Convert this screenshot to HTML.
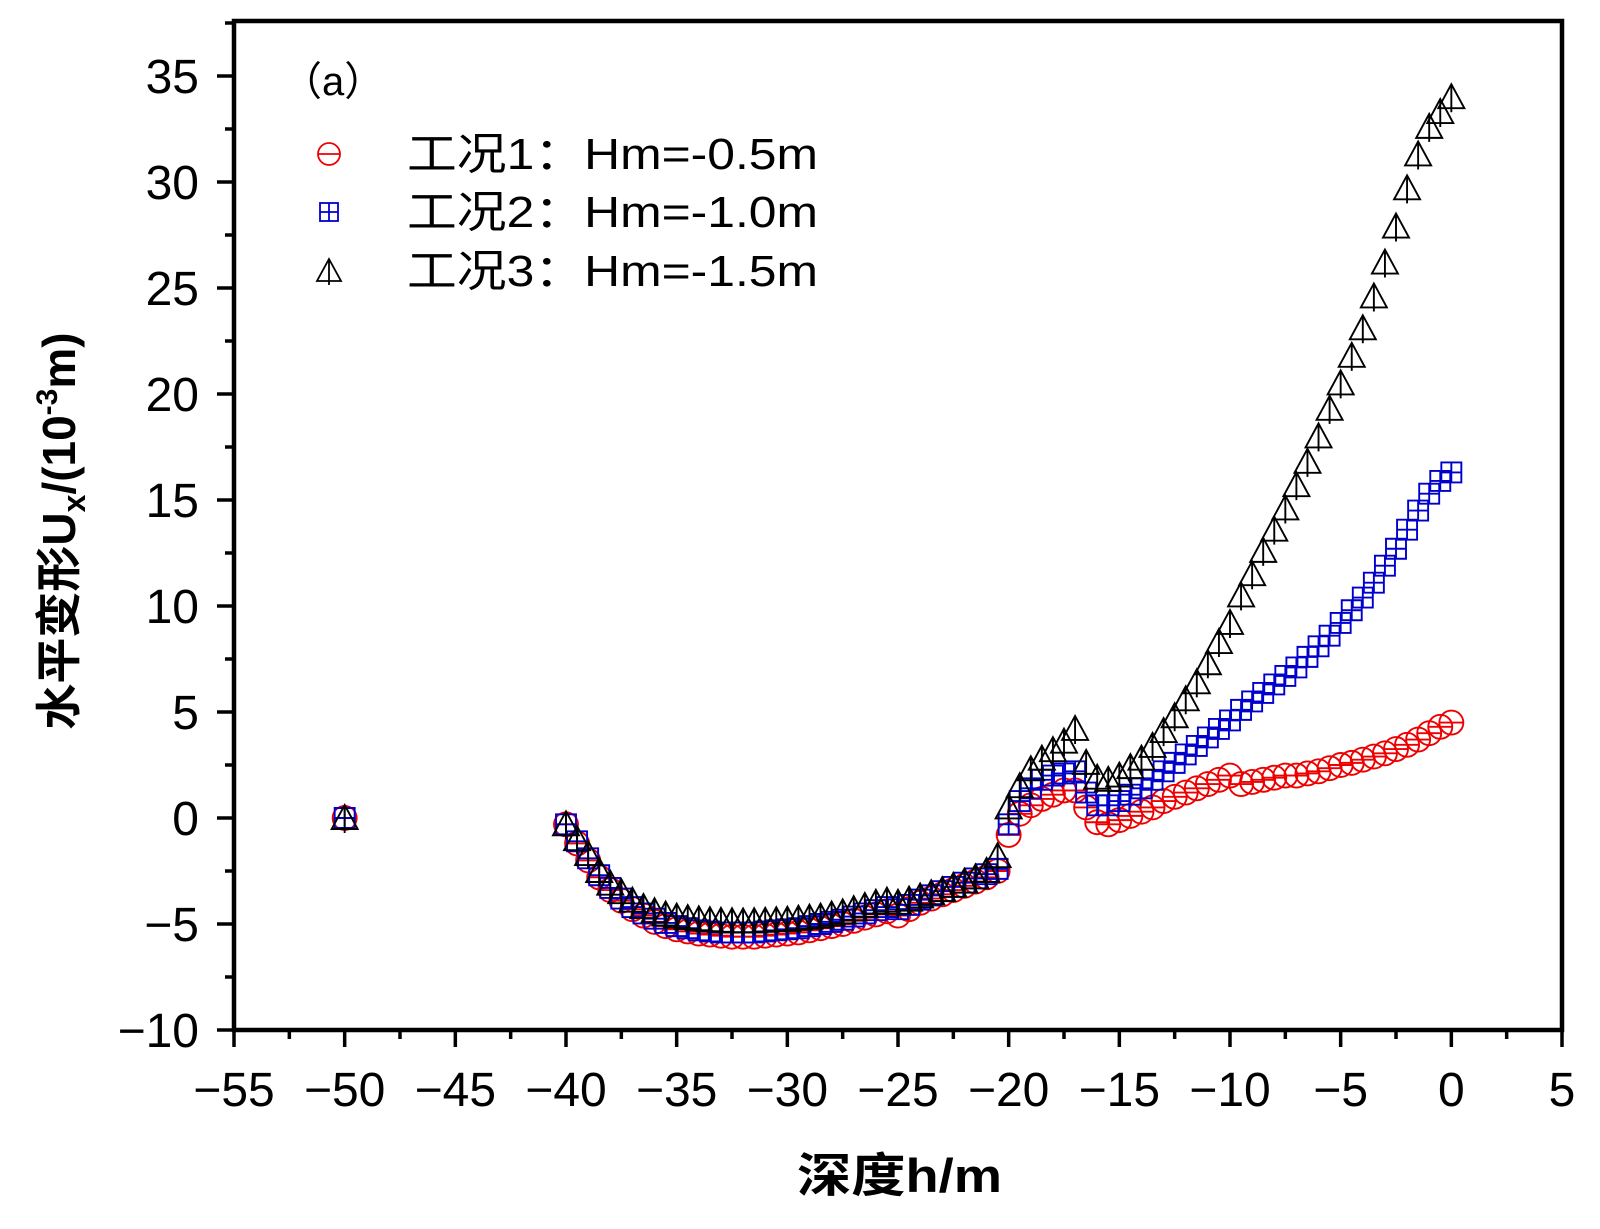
<!DOCTYPE html>
<html><head><meta charset="utf-8"><style>
body{margin:0;background:#fff}
svg text{font-family:"Liberation Sans","Noto Sans CJK SC",sans-serif}
</style></head><body>
<svg id="chart" width="1600" height="1224" viewBox="0 0 1600 1224" xmlns="http://www.w3.org/2000/svg">
<g id="marks"></g>
<rect x="234" y="21" width="1328" height="1009" fill="none" stroke="#000" stroke-width="4.5"/>
<g id="axes"></g>
<text x="282" y="95" font-size="40">（a）</text>
<g>
<circle cx="329" cy="154" r="11" fill="none" stroke="#e00" stroke-width="1.8"/><line x1="318" y1="154" x2="340" y2="154" stroke="#e00" stroke-width="1.8"/>
<text x="407" y="169" font-size="44" textLength="411" lengthAdjust="spacingAndGlyphs">工况1：Hm=-0.5m</text>
<rect x="320" y="203" width="18" height="18" fill="none" stroke="#00c" stroke-width="1.8"/><line x1="329" y1="203" x2="329" y2="221" stroke="#00c" stroke-width="1.8"/><line x1="320" y1="212" x2="338" y2="212" stroke="#00c" stroke-width="1.8"/>
<text x="407" y="227" font-size="44" textLength="411" lengthAdjust="spacingAndGlyphs">工况2：Hm=-1.0m</text>
<path d="M329 259 L341 281 L317 281 Z M329 259 L329 285" fill="none" stroke="#000" stroke-width="1.8"/>
<text x="407" y="286" font-size="44" textLength="411" lengthAdjust="spacingAndGlyphs">工况3：Hm=-1.5m</text>
</g>
<text x="797" y="1192" font-size="47" font-weight="bold" textLength="205" lengthAdjust="spacingAndGlyphs">深度h/m</text>
<text transform="translate(75,531) rotate(-90)" font-size="46" font-weight="bold" text-anchor="middle">水平变形U<tspan font-size="32" dy="10">x</tspan><tspan dy="-10">/(10</tspan><tspan font-size="30" dy="-18">-3</tspan><tspan dy="18">m)</tspan></text>
</svg>
<script>
const depths=[-50,-40,-39.5,-39,-38.5,-38,-37.5,-37,-36.5,-36,-35.5,-35,-34.5,-34,-33.5,-33,-32.5,-32,-31.5,-31,-30.5,-30,-29.5,-29,-28.5,-28,-27.5,-27,-26.5,-26,-25.5,-25,-24.5,-24,-23.5,-23,-22.5,-22,-21.5,-21,-20.5,-20,-19.5,-19,-18.5,-18,-17.5,-17,-16.5,-16,-15.5,-15,-14.5,-14,-13.5,-13,-12.5,-12,-11.5,-11,-10.5,-10,-9.5,-9,-8.5,-8,-7.5,-7,-6.5,-6,-5.5,-5,-4.5,-4,-3.5,-3,-2.5,-2,-1.5,-1,-0.5,0];
const case1=[0,-0.3,-1.2,-2.0,-2.8,-3.4,-3.9,-4.3,-4.6,-4.9,-5.1,-5.25,-5.35,-5.45,-5.5,-5.55,-5.6,-5.6,-5.6,-5.55,-5.5,-5.45,-5.4,-5.3,-5.2,-5.1,-5.0,-4.85,-4.7,-4.55,-4.4,-4.6,-4.3,-4.0,-3.8,-3.6,-3.4,-3.2,-3.0,-2.8,-2.5,-0.8,0.2,0.6,0.9,1.1,1.3,1.3,0.5,-0.2,-0.3,-0.1,0.1,0.3,0.5,0.8,1.0,1.2,1.4,1.6,1.8,2.0,1.6,1.7,1.8,1.9,2.0,2.0,2.1,2.2,2.35,2.5,2.6,2.75,2.9,3.05,3.25,3.45,3.7,4.0,4.3,4.5];
const case2=[0,-0.3,-1.1,-1.9,-2.7,-3.3,-3.8,-4.2,-4.5,-4.75,-4.95,-5.1,-5.2,-5.3,-5.35,-5.4,-5.4,-5.4,-5.4,-5.35,-5.3,-5.25,-5.2,-5.1,-5.0,-4.9,-4.8,-4.65,-4.5,-4.35,-4.2,-4.3,-4.1,-3.85,-3.65,-3.45,-3.25,-3.05,-2.85,-2.65,-2.4,-0.3,0.8,1.4,1.8,2.0,2.1,2.2,1.2,0.6,0.6,0.8,1.1,1.4,1.8,2.2,2.6,3.0,3.4,3.8,4.2,4.6,5.1,5.5,5.9,6.3,6.7,7.1,7.6,8.1,8.6,9.2,9.8,10.4,11.1,11.9,12.7,13.6,14.5,15.3,15.9,16.3];
const case3=[0,-0.3,-1.0,-1.7,-2.5,-3.1,-3.5,-3.9,-4.2,-4.4,-4.55,-4.65,-4.72,-4.78,-4.82,-4.85,-4.87,-4.88,-4.87,-4.85,-4.82,-4.8,-4.75,-4.7,-4.65,-4.55,-4.45,-4.3,-4.15,-4.0,-3.9,-4.0,-3.85,-3.7,-3.55,-3.4,-3.2,-3.0,-2.8,-2.5,-1.8,0.5,1.5,2.3,2.8,3.2,3.6,4.2,2.6,1.9,1.8,2.0,2.4,2.8,3.4,4.1,4.8,5.6,6.4,7.3,8.3,9.2,10.5,11.5,12.6,13.6,14.6,15.7,16.8,18.0,19.3,20.5,21.8,23.1,24.6,26.2,27.9,29.7,31.3,32.6,33.3,34.0];
const xTicks=[-55,-50,-45,-40,-35,-30,-25,-20,-15,-10,-5,0,5];
const yTicks=[-10,-5,0,5,10,15,20,25,30,35];
const NS='http://www.w3.org/2000/svg';
const X=v=>234+(v+55)*1328/60;
const Y=v=>818-v*954/45;
function mk(tag,at){const e=document.createElementNS(NS,tag);for(const k in at)e.setAttribute(k,at[k]);return e;}
const marks=document.getElementById('marks'),axes=document.getElementById('axes');
depths.forEach((d,i)=>{
 const x=X(d),y=Y(case1[i]);
 const c=mk('g',{});
 
 
 c.appendChild(mk('circle',{cx:x,cy:y,r:12,fill:'none',stroke:'#e00','stroke-width':1.9}));
 c.appendChild(mk('line',{x1:x-12,y1:y,x2:x+12,y2:y,stroke:'#e00','stroke-width':1.9}));
 marks.appendChild(c);
});
depths.forEach((d,i)=>{
 const x=X(d),y=Y(case2[i]);
 const s=mk('path',{d:`M${x-10} ${y-10}h20v20h-20z M${x} ${y-10}v20 M${x-10} ${y}h20`,fill:'none',stroke:'#00c','stroke-width':1.9});
 
 
 marks.appendChild(s);
});
depths.forEach((d,i)=>{
 const x=X(d),y=Y(case3[i]);
 const t=mk('path',{d:`M${x} ${y-13}L${x+13} ${y+11}L${x-13} ${y+11}Z M${x} ${y-13}V${y+15}`,fill:'none',stroke:'#000','stroke-width':1.9});
 
 
 marks.appendChild(t);
});
xTicks.forEach((v,i)=>{
 const x=X(v);
 axes.appendChild(mk('line',{x1:x,y1:1030,x2:x,y2:1047,stroke:'#000','stroke-width':3.5}));
 if(i<xTicks.length-1){const xm=X(v+2.5);axes.appendChild(mk('line',{x1:xm,y1:1030,x2:xm,y2:1039,stroke:'#000','stroke-width':3.5}));}
 const t=mk('text',{x:x,y:1106,'font-size':48,'text-anchor':'middle'});
 
 
 t.textContent=String(v).replace('-','\u2212');axes.appendChild(t);
});
yTicks.forEach((v,i)=>{
 const y=Y(v);
 axes.appendChild(mk('line',{x1:217,y1:y,x2:234,y2:y,stroke:'#000','stroke-width':3.5}));
 const ym=Y(v+2.5);axes.appendChild(mk('line',{x1:225,y1:ym,x2:234,y2:ym,stroke:'#000','stroke-width':3.5}));
 const t=mk('text',{x:199,y:y+17,'font-size':48,'text-anchor':'end'});
 
 
 t.textContent=String(v).replace('-','\u2212');axes.appendChild(t);
});
</script>
</body></html>
